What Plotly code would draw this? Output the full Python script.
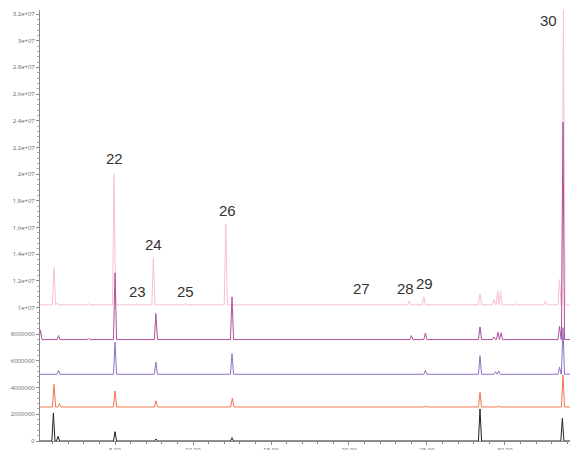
import plotly.graph_objects as go

# Retention time axis range (minutes) and trace offsets (signal units)
x_range = [0.19, 34.17]
y_max = 3.23e7

trace_names = ["pink", "magenta", "violet", "orange", "black"]
trace_colors = ["#f8bfd6", "#b24f9f", "#8f72c6", "#f3754f", "#222222"]
offsets = [10.2e6, 7.6e6, 5.0e6, 2.55e6, 0.0]

# Peak retention times (min) and heights (signal)
pink_times = [1.09, 1.25, 3.3, 4.94, 6.4, 7.46, 9.5, 12.1, 20.9, 23.85, 24.8, 28.4, 29.3, 29.53, 29.72, 30.75, 32.6, 33.5, 33.75]
pink_heights = [2.8e6, 0.15e6, 0.1e6, 9.8e6, 0.06e6, 3.5e6, 0.1e6, 6.1e6, 0.05e6, 0.3e6, 0.6e6, 0.85e6, 0.4e6, 1.05e6, 1.0e6, 0.1e6, 0.3e6, 1.9e6, 22.2e6]

magenta_times = [0.22, 1.38, 3.3, 5.0, 7.62, 12.5, 24.0, 24.9, 28.4, 29.3, 29.55, 29.75, 33.5, 33.72]
magenta_heights = [0.7e6, 0.3e6, 0.08e6, 5.0e6, 1.95e6, 3.2e6, 0.3e6, 0.5e6, 0.95e6, 0.2e6, 0.55e6, 0.5e6, 1.0e6, 16.3e6]

violet_times = [1.38, 5.0, 7.62, 12.5, 24.0, 24.9, 28.4, 29.4, 29.6, 33.5, 33.72]
violet_heights = [0.3e6, 2.4e6, 0.92e6, 1.55e6, 0.05e6, 0.3e6, 1.4e6, 0.2e6, 0.25e6, 0.55e6, 3.5e6]

orange_times = [1.09, 1.43, 5.0, 7.62, 12.52, 24.9, 28.4, 29.6, 33.72]
orange_heights = [1.7e6, 0.25e6, 1.2e6, 0.47e6, 0.65e6, 0.05e6, 1.1e6, 0.05e6, 2.4e6]

black_times = [1.05, 1.35, 5.0, 7.62, 12.5, 28.4, 33.68]
black_heights = [2.1e6, 0.35e6, 0.7e6, 0.15e6, 0.25e6, 2.4e6, 1.7e6]

peak_times = [pink_times, magenta_times, violet_times, orange_times, black_times]
peak_heights = [pink_heights, magenta_heights, violet_heights, orange_heights, black_heights]

# Peak number labels
label_texts = ["22", "23", "24", "25", "26", "27", "28", "29", "30"]
label_x = [4.94, 6.41, 7.44, 9.49, 12.24, 20.83, 23.6, 24.87, 32.8]
label_y = [21.2e6, 11.17e6, 14.7e6, 11.2e6, 17.3e6, 11.4e6, 11.4e6, 11.84e6, 31.5e6]

# Axis ticks
y_tickvals = [i * 2e6 for i in range(17)]
y_ticktext = ["0", "2000000", "4000000", "6000000", "8000000", "1e+07", "1.2e+07", "1.4e+07",
              "1.6e+07", "1.8e+07", "2e+07", "2.2e+07", "2.4e+07", "2.6e+07", "2.8e+07", "3e+07", "3.2e+07"]
x_tickvals = [5, 10, 15, 20, 25, 30]
x_ticktext = ["5.00", "10.00", "15.00", "20.00", "25.00", "30.00"]

half_width = 0.1

fig = go.Figure()
for name, color, off, times, heights in zip(trace_names, trace_colors, offsets, peak_times, peak_heights):
    xs = [x_range[0]]
    ys = [off]
    for t, h in sorted(zip(times, heights)):
        xs += [t - half_width, t, t + half_width]
        ys += [off, off + h, off]
    xs.append(x_range[1])
    ys.append(off)
    fig.add_trace(go.Scatter(x=xs, y=ys, mode="lines", name=name,
                             line=dict(color=color, width=1), hoverinfo="skip"))

for txt, lx, ly in zip(label_texts, label_x, label_y):
    fig.add_annotation(x=lx, y=ly, text=txt, showarrow=False,
                       font=dict(size=15, color="#333333", family="Liberation Sans, Arial, sans-serif"))

fig.update_layout(
    width=571, height=442,
    margin=dict(l=32, r=9, t=2, b=9),
    plot_bgcolor="white", paper_bgcolor="white",
    showlegend=False,
)
fig.update_xaxes(range=x_range, showgrid=False, zeroline=False, showline=True,
                 linecolor="#888888", linewidth=1, ticks="outside", ticklen=3,
                 tickcolor="#888888", tickvals=x_tickvals, ticktext=x_ticktext,
                 tickfont=dict(size=6, color="#666666"), automargin=False,
                 minor=dict(dtick=1, ticks="outside", ticklen=2, tickcolor="#888888"))
fig.update_yaxes(range=[0, y_max], showgrid=False, zeroline=False, showline=True,
                 linecolor="#888888", linewidth=1, ticks="outside", ticklen=3,
                 tickcolor="#888888", tickvals=y_tickvals, ticktext=y_ticktext,
                 tickfont=dict(size=6, color="#666666"), automargin=False,
                 minor=dict(dtick=4e5, ticks="outside", ticklen=2, tickcolor="#aaaaaa"))

fig.write_html("out.html")
